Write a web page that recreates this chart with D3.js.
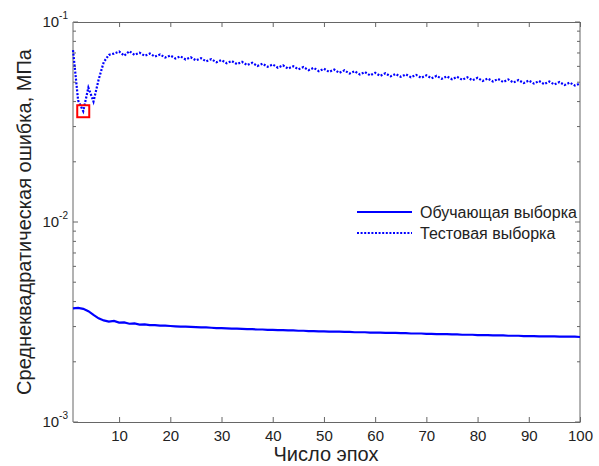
<!DOCTYPE html>
<html>
<head>
<meta charset="utf-8">
<script src="https://cdn.jsdelivr.net/npm/d3@7"></script>
<style>
body { margin: 0; background: #fff; }
text { font-family: "Liberation Sans", Arial, sans-serif; fill: #222; }
</style>
</head>
<body>
<script>
var epochs = d3.range(1, 101);

var trainErr = [
  0.00370, 0.00372, 0.00368, 0.00358, 0.00343, 0.00330, 0.00322, 0.00318, 0.00320, 0.00314,
  0.00315, 0.00310, 0.00311, 0.00307, 0.00308, 0.00305, 0.00305, 0.00303, 0.00303, 0.00302,
  0.00301, 0.00300, 0.00300, 0.00299, 0.00298, 0.00297, 0.00297, 0.00296, 0.00295, 0.00295,
  0.00294, 0.00293, 0.00293, 0.00292, 0.00291, 0.00291, 0.00290, 0.00290, 0.00289, 0.00289,
  0.00288, 0.00288, 0.00287, 0.00287, 0.00286, 0.00286, 0.00285, 0.00285, 0.00284, 0.00284,
  0.00283, 0.00283, 0.00283, 0.00282, 0.00282, 0.00281, 0.00281, 0.00281, 0.00280, 0.00280,
  0.00280, 0.00279, 0.00279, 0.00279, 0.00278, 0.00278, 0.00277, 0.00277, 0.00277, 0.00276,
  0.00276, 0.00275, 0.00275, 0.00275, 0.00274, 0.00274, 0.00273, 0.00273, 0.00273, 0.00272,
  0.00272, 0.00272, 0.00271, 0.00271, 0.00271, 0.00270, 0.00270, 0.00270, 0.00269, 0.00269,
  0.00269, 0.00268, 0.00268, 0.00268, 0.00268, 0.00267, 0.00267, 0.00267, 0.00267, 0.00266
];

var testErr = [
  0.0724, 0.0405, 0.0358, 0.0470, 0.0400, 0.0515, 0.0630, 0.0685, 0.0695, 0.0712,
  0.0678, 0.0715, 0.0685, 0.0702, 0.0678, 0.0695, 0.0671, 0.0688, 0.0664, 0.0680,
  0.0657, 0.0673, 0.0650, 0.0666, 0.0643, 0.0659, 0.0636, 0.0652, 0.0629, 0.0645,
  0.0622, 0.0638, 0.0616, 0.0632, 0.0609, 0.0625, 0.0603, 0.0619, 0.0597, 0.0613,
  0.0591, 0.0607, 0.0585, 0.0601, 0.0580, 0.0595, 0.0574, 0.0590, 0.0568, 0.0584,
  0.0563, 0.0578, 0.0557, 0.0573, 0.0552, 0.0567, 0.0547, 0.0562, 0.0541, 0.0557,
  0.0538, 0.0554, 0.0535, 0.0550, 0.0532, 0.0547, 0.0529, 0.0544, 0.0526, 0.0541,
  0.0523, 0.0538, 0.0520, 0.0535, 0.0517, 0.0532, 0.0514, 0.0529, 0.0511, 0.0526,
  0.0507, 0.0522, 0.0504, 0.0519, 0.0501, 0.0516, 0.0498, 0.0513, 0.0495, 0.0510,
  0.0492, 0.0507, 0.0489, 0.0504, 0.0487, 0.0501, 0.0484, 0.0498, 0.0481, 0.0493
];

var xTicks = [10, 20, 30, 40, 50, 60, 70, 80, 90, 100];
var yDecades = [1e-3, 1e-2, 1e-1];
var yLabels = ["-3", "-2", "-1"];
var bestEpoch = 3;
var seriesNames = ["Обучающая выборка", "Тестовая выборка"];

var W = 599, H = 466;
var margin = {top: 22, right: 19, bottom: 44, left: 73};
var w = W - margin.left - margin.right,
    h = H - margin.top - margin.bottom;

var svg = d3.select("body").append("svg").attr("width", W).attr("height", H);
var g = svg.append("g").attr("transform", `translate(${margin.left},${margin.top})`);

var x = d3.scaleLinear().domain([1, 100]).range([0, w]);
var y = d3.scaleLog().domain([1e-3, 1e-1]).range([h, 0]);

// minor y ticks 2..9 per decade
var minor = [];
[1e-3, 1e-2].forEach(function(d) {
  for (var k = 2; k <= 9; k++) minor.push(d * k);
});

var axisColor = "#666";

// bottom / top ticks (inside)
g.append("g").attr("transform", `translate(0,${h})`)
  .call(d3.axisBottom(x).tickValues(xTicks).tickSizeInner(-5).tickSizeOuter(0).tickPadding(8))
  .call(function(a) {
    a.select(".domain").attr("stroke", axisColor);
    a.selectAll(".tick line").attr("stroke", axisColor);
    a.selectAll("text").attr("font-size", 15).attr("fill", "#222");
  });
g.append("g")
  .call(d3.axisTop(x).tickValues(xTicks).tickSizeInner(-5).tickSizeOuter(0).tickFormat(""))
  .call(function(a) {
    a.select(".domain").attr("stroke", axisColor);
    a.selectAll(".tick line").attr("stroke", axisColor);
  });

// left / right y axes
[["left", 0, 1], ["right", w, -1]].forEach(function(s) {
  var ax = g.append("g").attr("transform", `translate(${s[1]},0)`);
  ax.append("line").attr("y1", 0).attr("y2", h).attr("stroke", axisColor);
  ax.selectAll(".maj").data(yDecades).enter().append("line")
    .attr("x1", 0).attr("x2", 5 * s[2])
    .attr("y1", function(d) { return y(d); }).attr("y2", function(d) { return y(d); })
    .attr("stroke", axisColor);
  ax.selectAll(".min").data(minor).enter().append("line")
    .attr("x1", 0).attr("x2", 3 * s[2])
    .attr("y1", function(d) { return y(d); }).attr("y2", function(d) { return y(d); })
    .attr("stroke", axisColor);
});

// y tick labels 10^n
yDecades.forEach(function(d, i) {
  var t = g.append("text").attr("x", -5).attr("y", y(d) + 5)
    .attr("text-anchor", "end").attr("font-size", 15);
  t.append("tspan").text("10");
  t.append("tspan").attr("font-size", 10).attr("dy", -8).text(yLabels[i]);
});

var line = d3.line()
  .x(function(d, i) { return x(epochs[i]); })
  .y(function(d) { return y(d); });

g.append("path").datum(trainErr).attr("d", line)
  .attr("fill", "none").attr("stroke", "#0000ff").attr("stroke-width", 2.2);

g.append("path").datum(testErr).attr("d", line)
  .attr("fill", "none").attr("stroke", "#0000ff").attr("stroke-width", 2.2)
  .attr("stroke-dasharray", "2,1.6");

// best epoch marker
g.append("rect")
  .attr("x", x(bestEpoch) - 6).attr("y", y(testErr[bestEpoch - 1]) - 6)
  .attr("width", 12).attr("height", 12)
  .attr("fill", "none").attr("stroke", "#ff0000").attr("stroke-width", 2);

// legend
var leg = g.append("g").attr("transform", `translate(${357 - margin.left},${212 - margin.top})`);
seriesNames.forEach(function(name, i) {
  leg.append("line").attr("x1", 0).attr("x2", 55).attr("y1", i * 21).attr("y2", i * 21)
    .attr("stroke", "#0000ff").attr("stroke-width", 2.2)
    .attr("stroke-dasharray", i === 1 ? "2,1.6" : null);
  leg.append("text").attr("x", 63).attr("y", i * 21 + 6).attr("font-size", 16).text(name);
});

// axis titles
svg.append("text").attr("x", 326).attr("y", 461)
  .attr("text-anchor", "middle").attr("font-size", 20).text("Число эпох");
svg.append("text").attr("transform", "translate(31,222) rotate(-90)")
  .attr("text-anchor", "middle").attr("font-size", 20)
  .text("Среднеквадратическая ошибка, МПа");
</script>
</body>
</html>
